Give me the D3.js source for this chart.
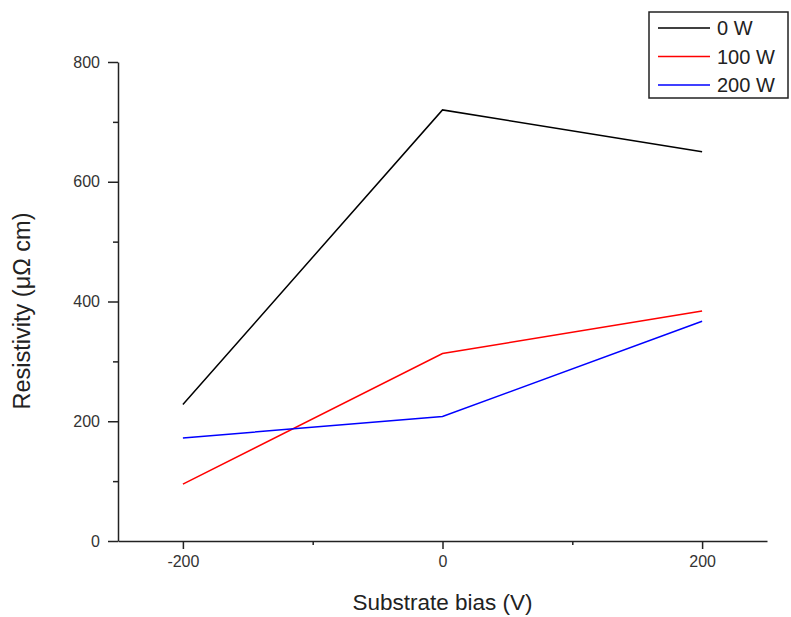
<!DOCTYPE html>
<html>
<head>
<meta charset="utf-8">
<script src="https://cdn.jsdelivr.net/npm/d3@7"></script>
<style>
  html, body { margin: 0; padding: 0; background: #fff; }
  svg { display: block; }
  text { font-family: "Liberation Sans", Arial, sans-serif; }
</style>
</head>
<body>
<svg id="chart" width="791" height="617"></svg>
<script>
// Substrate bias (V) on the x axis
const biases = [-200, 0, 200];
// Resistivity (µΩ cm) for each sputtering power
const series0W = [228, 720, 650];
const series100W = [95, 313, 384];
const series200W = [172, 208, 367];
const seriesNames = ["0 W", "100 W", "200 W"];
const seriesColors = ["#000000", "#ff0000", "#0000ff"];
const xMajorTicks = [-200, 0, 200];
const xMinorTicks = [-100, 100];
const yMajorTicks = [0, 200, 400, 600, 800];
const yMinorTicks = [100, 300, 500, 700];

const seriesData = [series0W, series100W, series200W];

const svg = d3.select("#chart");
const margin = { left: 118, right: 24, top: 62, bottom: 76 };
const W = 791, H = 617;

const x = d3.scaleLinear().domain([-250, 250]).range([margin.left, W - margin.right]);
const y = d3.scaleLinear().domain([0, 800]).range([H - margin.bottom, margin.top]);

const axisColor = "#222";
const tickColor = "#333";

// x axis (plain hyphen for negative labels)
const xAxis = svg.append("g").attr("transform", `translate(0,${y(0)})`)
  .call(d3.axisBottom(x).tickValues(xMajorTicks).tickSize(8).tickPadding(7).tickFormat(d => String(d)).tickSizeOuter(0));
xAxis.append("g").call(d3.axisBottom(x).tickValues(xMinorTicks).tickSize(4).tickFormat("").tickSizeOuter(0))
  .select(".domain").remove();

// y axis
const yAxis = svg.append("g").attr("transform", `translate(${x(-250)},0)`)
  .call(d3.axisLeft(y).tickValues(yMajorTicks).tickSize(10).tickPadding(8).tickFormat(d => String(d)).tickSizeOuter(0));
yAxis.append("g").call(d3.axisLeft(y).tickValues(yMinorTicks).tickSize(5).tickFormat("").tickSizeOuter(0))
  .select(".domain").remove();

svg.selectAll(".domain").attr("stroke", axisColor).attr("stroke-width", 1.5);
svg.selectAll(".tick line").attr("stroke", axisColor).attr("stroke-width", 1.5);
svg.selectAll(".tick text")
  .attr("font-family", "Liberation Sans, Arial, sans-serif")
  .attr("font-size", 16)
  .attr("fill", tickColor);

// data lines
const line = d3.line().x((d, i) => x(biases[i])).y(d => y(d));
svg.append("g").selectAll("path").data(seriesData).join("path")
  .attr("d", d => line(d))
  .attr("fill", "none")
  .attr("stroke", (d, i) => seriesColors[i])
  .attr("stroke-width", 1.5);

// axis titles
svg.append("text")
  .attr("x", x(0)).attr("y", 610)
  .attr("text-anchor", "middle")
  .attr("font-size", 22.5)
  .attr("fill", "#222")
  .text("Substrate bias (V)");

svg.append("text")
  .attr("transform", "translate(30,311) rotate(-90)")
  .attr("text-anchor", "middle")
  .attr("font-size", 23.5)
  .attr("fill", "#222")
  .text("Resistivity (\u03bc\u03a9 cm)");

// legend
const lg = svg.append("g");
lg.append("rect")
  .attr("x", 649).attr("y", 12).attr("width", 139).attr("height", 86)
  .attr("fill", "#fff").attr("stroke", "#222").attr("stroke-width", 1.5);
seriesNames.forEach((name, i) => {
  const ly = 28 + i * 28.5;
  lg.append("line")
    .attr("x1", 658).attr("x2", 710).attr("y1", ly).attr("y2", ly)
    .attr("stroke", seriesColors[i]).attr("stroke-width", 1.5);
  lg.append("text")
    .attr("x", 717).attr("y", ly + 7)
    .attr("font-size", 20)
    .attr("fill", "#222")
    .text(name);
});
</script>
</body>
</html>
